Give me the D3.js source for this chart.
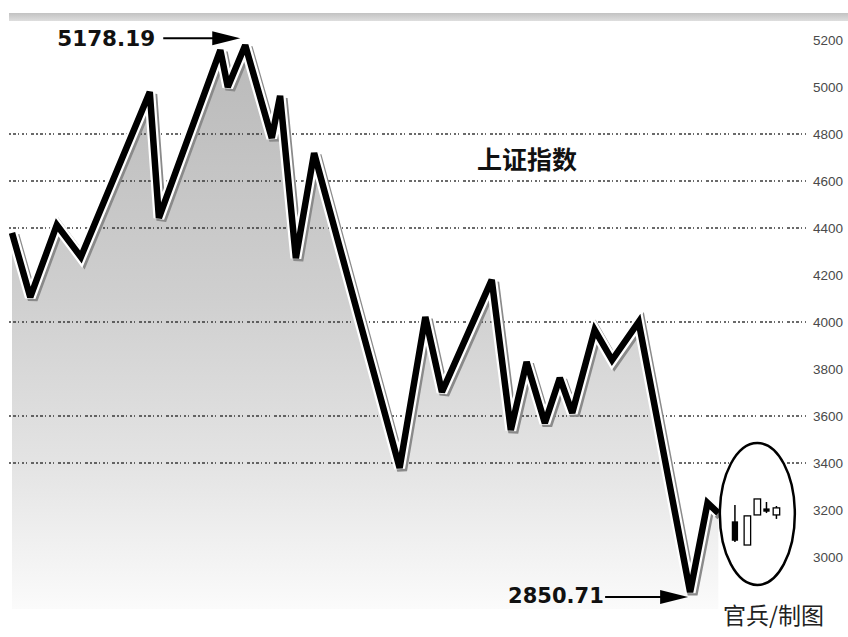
<!DOCTYPE html>
<html>
<head>
<meta charset="utf-8">
<script src="https://cdn.jsdelivr.net/npm/d3@7/dist/d3.min.js"></script>
<style>
  html, body { margin: 0; padding: 0; background: #fff; }
  svg { display: block; }
</style>
</head>
<body>
<svg id="chart" width="848" height="637"></svg>
<script>
// ---------- data ----------
const tradingDay = [0, 2.2, 5.4, 8.3, 16.6, 17.7, 25.1, 26.0, 28.1, 31.3, 32.3, 34.2, 36.4,
  46.7, 49.8, 51.8, 57.8, 60.1, 62.0, 64.2, 66.0, 67.5, 70.2, 72.3, 75.5, 81.7, 83.8, 85.1];
const indexValue = [4379, 4106, 4413, 4277, 4979, 4443, 5157, 5000, 5178.19, 4783, 4962, 4272, 4719,
  3379, 4021, 3702, 4179, 3540, 3830, 3570, 3762, 3613, 3966, 3838, 4000, 2850.71, 3230, 3187];
const tickValues = [5200, 5000, 4800, 4600, 4400, 4200, 4000, 3800, 3600, 3400, 3200, 3000];
const gridValues = [4800, 4600, 4400, 4000, 3600, 3400];
const titleText = "上证指数";
const creditText = "官兵/制图";
const highLabel = "5178.19";
const lowLabel = "2850.71";
// inset candlesticks
const candleDay = [87.1, 88.6, 89.8, 90.9, 92.1];
const candleOpen = [3149, 3051, 3179, 3204, 3179];
const candleClose = [3072, 3175, 3247, 3196, 3209];
const candleHigh = [3221, 3175, 3247, 3234, 3217];
const candleLow = [3064, 3051, 3179, 3187, 3162];
const candleFilled = [true, false, false, true, false];
const ellipseCenter = [89.8, 3183];

// ---------- scales ----------
const svg = d3.select("#chart");
const x = d3.scaleLinear().domain([0, 100]).range([12, 842]);
const y = d3.scaleLinear().domain([3000, 5200]).range([557, 40]);
const plotLeft = 9, plotRight = 848, plotBottom = 609;

const pts = tradingDay.map((d, i) => ({ d, v: indexValue[i] }));

const defs = svg.append("defs");
const g1 = defs.append("linearGradient").attr("id", "areaGrad")
  .attr("gradientUnits", "userSpaceOnUse")
  .attr("x1", 0).attr("x2", 0).attr("y1", 40).attr("y2", plotBottom);
[[0, "#b9b9b9"], [0.45, "#cfcfcf"], [0.75, "#e4e4e4"], [1, "#fbfbfb"]]
  .forEach(([o, c]) => g1.append("stop").attr("offset", o).attr("stop-color", c));
const g2 = defs.append("linearGradient").attr("id", "bandGrad")
  .attr("x1", 0).attr("x2", 0).attr("y1", 0).attr("y2", 1);
[[0, "#c2c2c2"], [1, "#dedede"]]
  .forEach(([o, c]) => g2.append("stop").attr("offset", o).attr("stop-color", c));

// top band
svg.append("rect").attr("x", plotLeft).attr("y", 13).attr("width", plotRight - plotLeft)
  .attr("height", 8).attr("fill", "url(#bandGrad)");

// area
const area = d3.area().x(p => x(p.d)).y0(plotBottom).y1(p => y(p.v));
svg.append("path").datum(pts).attr("d", area).attr("fill", "url(#areaGrad)");

// grid lines
svg.append("g").selectAll("line").data(gridValues).join("line")
  .attr("x1", plotLeft).attr("x2", 806)
  .attr("y1", v => y(v)).attr("y2", v => y(v))
  .attr("stroke", "#3a3a3a").attr("stroke-width", 1.3)
  .attr("stroke-dasharray", "2,2,3,2,1,3,2,2,1,4,3,2");

// right axis labels
const axis = d3.axisRight(y).tickValues(tickValues).tickSize(0).tickPadding(0)
  .tickFormat(d3.format("d"));
const ag = svg.append("g").attr("transform", "translate(843,0)").call(axis);
ag.select(".domain").remove();
ag.selectAll("text").attr("text-anchor", "end").attr("x", 0)
  .attr("font-family", "Liberation Sans, Arial, sans-serif").attr("font-size", 13.5)
  .attr("fill", "#4a4a4a");

// line with halo and shadow
const line = d3.line().x(p => x(p.d)).y(p => y(p.v));
svg.append("path").datum(pts).attr("d", line).attr("fill", "none")
  .attr("stroke", "#8a8a8a").attr("stroke-width", 10).attr("stroke-linejoin", "miter")
  .attr("stroke-miterlimit", 3).attr("transform", "translate(2.5,2.5)");
svg.append("path").datum(pts).attr("d", line).attr("fill", "none")
  .attr("stroke", "#fff").attr("stroke-width", 11).attr("stroke-linejoin", "miter")
  .attr("stroke-miterlimit", 3);
svg.append("path").datum(pts).attr("d", line).attr("fill", "none")
  .attr("stroke", "#000").attr("stroke-width", 6.5).attr("stroke-linejoin", "miter")
  .attr("stroke-miterlimit", 3);

// ellipse + candles
const ex = x(ellipseCenter[0]), ey = y(ellipseCenter[1]);
svg.append("ellipse").attr("cx", ex).attr("cy", ey).attr("rx", 37.5).attr("ry", 71)
  .attr("fill", "#fff").attr("stroke", "#000").attr("stroke-width", 2.5);
const cg = svg.append("g");
candleDay.forEach((d, i) => {
  const cx = x(d);
  cg.append("line").attr("x1", cx).attr("x2", cx)
    .attr("y1", y(candleHigh[i])).attr("y2", y(candleLow[i]))
    .attr("stroke", "#000").attr("stroke-width", 1.5);
  const top = y(Math.max(candleOpen[i], candleClose[i]));
  const bot = y(Math.min(candleOpen[i], candleClose[i]));
  const w = candleFilled[i] ? 5 : 6.5;
  cg.append("rect").attr("x", cx - w / 2).attr("y", top).attr("width", w)
    .attr("height", Math.max(2, bot - top))
    .attr("fill", candleFilled[i] ? "#000" : "#fff")
    .attr("stroke", "#000").attr("stroke-width", 1.3);
});

// annotations
function arrow(tipX, tipY, startX) {
  svg.append("line").attr("x1", startX).attr("x2", tipX - 26).attr("y1", tipY).attr("y2", tipY)
    .attr("stroke", "#000").attr("stroke-width", 2);
  svg.append("path")
    .attr("d", `M${tipX},${tipY} L${tipX - 28},${tipY - 7} L${tipX - 28},${tipY + 7} Z`)
    .attr("fill", "#000");
}
const hiIdx = indexValue.indexOf(d3.max(indexValue));
const loIdx = indexValue.indexOf(d3.min(indexValue));
const hx = x(tradingDay[hiIdx]), hy = y(indexValue[hiIdx]);
const lx = x(tradingDay[loIdx]), ly = y(indexValue[loIdx]);

svg.append("text").attr("x", hx - 188).attr("y", hy + 1).text(highLabel)
  .attr("font-family", "DejaVu Sans, sans-serif").attr("font-weight", "bold")
  .attr("font-size", 21.5).attr("fill", "#111");
arrow(hx - 5, hy - 7, hx - 82);

svg.append("text").attr("x", lx - 182).attr("y", ly + 11).text(lowLabel)
  .attr("font-family", "DejaVu Sans, sans-serif").attr("font-weight", "bold")
  .attr("font-size", 21).attr("fill", "#111");
arrow(lx - 2, ly + 5, lx - 85);

svg.append("text").attr("x", 527).attr("y", 169).attr("text-anchor", "middle").text(titleText)
  .attr("font-family", "Noto Sans CJK SC, sans-serif").attr("font-weight", "bold")
  .attr("font-size", 25).attr("fill", "#111");

svg.append("text").attr("x", 723).attr("y", 624).text(creditText)
  .attr("font-family", "Noto Sans CJK SC, sans-serif")
  .attr("font-size", 23).attr("fill", "#222");
</script>
</body>
</html>
